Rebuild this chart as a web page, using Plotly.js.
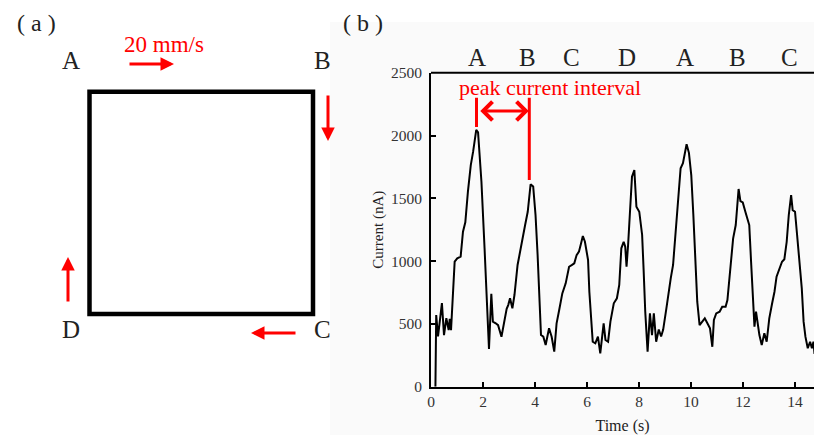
<!DOCTYPE html>
<html><head><meta charset="utf-8">
<script src="https://cdn.plot.ly/plotly-3.0.1.min.js"></script>
<style>html,body{margin:0;padding:0;background:#fff}</style>
</head><body><div id="chart" style="width:814px;height:435px"></div>
<script>
// ---- data ----
const timeS = [0.17,0.2,0.27,0.33,0.42,0.5,0.59,0.68,0.72,0.77,0.91,1.01,1.14,1.23,1.32,1.42,1.53,1.62,1.74,1.81,1.94,2.06,2.13,2.17,2.23,2.32,2.38,2.49,2.58,2.71,2.83,2.91,2.97,3.04,3.13,3.21,3.33,3.42,3.51,3.62,3.72,3.77,3.83,3.93,4.02,4.1,4.15,4.23,4.32,4.41,4.54,4.64,4.74,4.83,4.93,5.05,5.18,5.31,5.41,5.51,5.6,5.69,5.77,5.84,5.92,5.96,6.04,6.09,6.17,6.22,6.32,6.42,6.51,6.58,6.64,6.71,6.81,6.9,7.03,7.15,7.24,7.32,7.41,7.47,7.52,7.58,7.64,7.73,7.82,7.9,8.01,8.12,8.18,8.24,8.33,8.42,8.5,8.57,8.66,8.76,8.85,8.93,9.05,9.13,9.22,9.31,9.38,9.47,9.54,9.6,9.69,9.77,9.83,9.92,10.01,10.09,10.18,10.24,10.33,10.44,10.53,10.63,10.73,10.82,10.88,10.97,11.1,11.2,11.33,11.4,11.46,11.55,11.62,11.72,11.83,11.9,11.99,12.09,12.18,12.24,12.31,12.37,12.44,12.5,12.56,12.63,12.72,12.82,12.91,13.01,13.12,13.21,13.29,13.4,13.5,13.59,13.68,13.76,13.85,13.91,14.0,14.08,14.17,14.26,14.33,14.4,14.49,14.58,14.65,14.71,14.75];
const currentNA = [0,570,400,530,665,410,545,450,540,450,995,1022,1035,1234,1309,1553,1765,1871,2044,2025,1632,1102,730,505,300,740,518,505,490,398,545,620,650,704,624,730,969,1075,1181,1287,1393,1500,1611,1594,1367,1048,783,411,398,332,465,398,279,505,611,743,823,955,968,982,1048,1075,1141,1200,1154,1102,1009,756,518,358,345,398,266,372,505,372,358,518,664,704,810,1102,1154,1115,955,1128,1341,1672,1725,1433,1393,1208,916,597,279,584,411,584,358,455,400,455,620,756,863,969,1154,1393,1580,1739,1779,1871,1930,1862,1685,1367,916,677,491,518,544,505,465,318,531,584,597,637,637,690,836,1075,1181,1287,1574,1478,1467,1393,1314,1287,995,730,478,597,518,411,332,425,358,544,664,756,876,942,995,1015,1154,1367,1526,1406,1393,1208,995,783,518,398,306,358,306,358,260];
const cornerLabels = ['A','B','C','D','A','B','C'];
const cornerTimes = [1.76,3.73,5.42,7.54,9.77,11.8,13.8];
const xTicks = [0,2,4,6,8,10,12,14];
const yTicks = [0,500,1000,1500,2000,2500];
const squareLabels = ['A','B','C','D'];

// ---- layout helpers ----
const W = 814, H = 435;
const px = x => x / W, py = y => 1 - y / H;
const serif = 'Liberation Serif, Times New Roman, serif';
const red = '#ff0000';

const trace = {
  x: timeS, y: currentNA, type: 'scatter', mode: 'lines',
  line: {color: '#000', width: 2}, hoverinfo: 'skip', showlegend: false
};

const shapes = [
  // panel (b) light background
  {type:'rect', xref:'paper', yref:'paper', x0:px(330), x1:1, y0:0, y1:py(22),
   fillcolor:'#fafafa', line:{width:0}, layer:'below'},
  // top frame line of plot
  {type:'line', xref:'x domain', yref:'y domain', x0:0, x1:1, y0:1, y1:1,
   line:{color:'#000', width:2}},
  // panel (a) square
  {type:'rect', xref:'paper', yref:'paper', x0:px(89.5), x1:px(313), y0:py(314), y1:py(91.7),
   line:{color:'#000', width:4.5}},
  // peak interval markers
  {type:'line', xref:'x', yref:'y', x0:1.75, x1:1.75, y0:2068, y1:2300, line:{color:red, width:3}},
  {type:'line', xref:'x', yref:'y', x0:3.78, x1:3.78, y0:1646, y1:2300, line:{color:red, width:3}}
];

function txt(text, xref, x, y, size, color, yref) {
  return {text, xref, yref: yref || 'paper', x, y, showarrow:false,
          xanchor:'center', yanchor:'middle', font:{family:serif, size, color}};
}

const annotations = [
  txt('( a )', 'paper', px(36), py(23), 24, '#222'),
  txt('( b )', 'paper', px(363), py(23), 24, '#222'),
  txt('20 mm/s', 'paper', px(164), py(45), 23, red),
  txt('peak current interval', 'x', 4.58, 2386, 22, red, 'y'),
  // double arrow
  {text:'', xref:'x', yref:'y', x:3.76, y:2195, axref:'pixel', ayref:'pixel', ax:-50, ay:0,
   showarrow:true, arrowside:'end+start', arrowhead:4, startarrowhead:4,
   arrowsize:1.2, startarrowsize:1.2, arrowwidth:3, arrowcolor:red},
  // square direction arrows
  {text:'', xref:'paper', yref:'paper', x:px(174), y:py(64), ax:-46, ay:0,
   showarrow:true, arrowhead:2, arrowsize:0.9, arrowwidth:3, arrowcolor:red},
  {text:'', xref:'paper', yref:'paper', x:px(328), y:py(141), ax:0, ay:-47,
   showarrow:true, arrowhead:2, arrowsize:0.9, arrowwidth:3, arrowcolor:red},
  {text:'', xref:'paper', yref:'paper', x:px(251), y:py(333), ax:46, ay:0,
   showarrow:true, arrowhead:2, arrowsize:0.9, arrowwidth:3, arrowcolor:red},
  {text:'', xref:'paper', yref:'paper', x:px(68), y:py(257), ax:0, ay:46,
   showarrow:true, arrowhead:2, arrowsize:0.9, arrowwidth:3, arrowcolor:red}
];
const sqPos = [[71,61],[322,61],[322,329],[71,329]];
squareLabels.forEach((t,i)=>annotations.push(
  txt(t, 'paper', px(sqPos[i][0]), py(sqPos[i][1]), 25, '#222')));
cornerLabels.forEach((t,i)=>annotations.push(
  txt(t, 'x', cornerTimes[i], py(57), 25, '#222')));

const axisCommon = {
  showline:true, linecolor:'#000', linewidth:2, mirror:false,
  ticks:'inside', ticklen:5, tickwidth:2, tickcolor:'#000',
  showgrid:false, zeroline:false, fixedrange:true,
  tickfont:{family:serif, size:15.5, color:'#333'}
};

const layout = {
  width: W, height: H, margin:{l:0, r:0, t:0, b:0},
  paper_bgcolor:'#fff', plot_bgcolor:'rgba(0,0,0,0)', showlegend:false,
  xaxis: Object.assign({}, axisCommon, {
    domain:[431/W, 1], range:[0, 14.73], tickvals:xTicks,
    title:{text:'Time (s)', font:{family:serif, size:16, color:'#222'}, standoff:13}
  }),
  yaxis: Object.assign({}, axisCommon, {
    domain:[py(386.7), py(72.7)], range:[0, 2500], tickvals:yTicks,
    ticklabelstandoff:4,
    title:{text:'Current (nA)', font:{family:serif, size:15, color:'#222'}, standoff:4}
  }),
  shapes, annotations
};

Plotly.newPlot('chart', [trace], layout, {displayModeBar:false, staticPlot:true});
</script>
</body></html>
